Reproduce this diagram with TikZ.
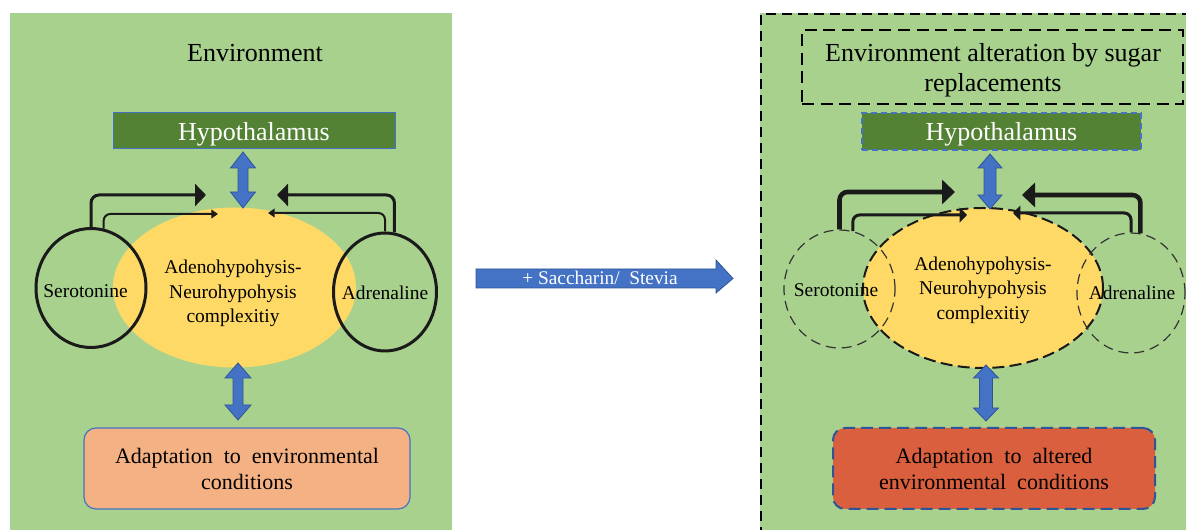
\documentclass[tikz,border=0pt]{standalone}
\usepackage{fontspec}
\setmainfont{Liberation Serif}
\usetikzlibrary{shapes.geometric,arrows.meta}
\definecolor{bggreen}{HTML}{A9D18E}
\definecolor{hypgreen}{HTML}{548235}
\definecolor{yell}{HTML}{FFD966}
\definecolor{bblue}{HTML}{4472C4}
\definecolor{bbord}{HTML}{2F5597}
\definecolor{peach}{HTML}{F4B183}
\definecolor{redor}{HTML}{DA5F3E}
\definecolor{lineblack}{HTML}{1A1A1A}
\def\px{0.75pt}
\newcommand\vdarrow[6]{%
  \draw[blockarrow] ({#1-#4},{#2+#6}) -- ({#1-#5},{#2+#6}) -- (#1,#2) -- ({#1+#5},{#2+#6})
   -- ({#1+#4},{#2+#6}) -- ({#1+#4},{#3-#6}) -- ({#1+#5},{#3-#6}) -- (#1,#3)
   -- ({#1-#5},{#3-#6}) -- ({#1-#4},{#3-#6}) -- cycle;}
\begin{document}
\begin{tikzpicture}[x=0.75pt,y=-0.75pt,
  titlefont/.style={font=\fontsize{19.5}{22.5}\selectfont},
  hypo/.style={fill=hypgreen, text=white, inner sep=0pt, text depth=0pt, font=\fontsize{19.5}{22}\selectfont},
  ell/.style={ellipse, fill=yell, inner sep=0pt},
  circ/.style={ellipse, inner sep=0pt},
  smalltext/.style={font=\fontsize{14.6}{18.4}\selectfont, align=center, inner sep=0pt},
  adapt/.style={rounded corners=9pt, inner sep=0pt, align=center, font=\fontsize{16.5}{19.5}\selectfont},
  blockarrow/.style={fill=bblue, draw=bbord, line width=0.6pt, line join=miter},
  hookthick/.style={draw=lineblack, line width=2.25pt, rounded corners=6pt, -{Triangle[length=8.25pt,width=16.5pt]}},
  hookthin/.style={draw=lineblack, line width=1.5pt, rounded corners=5pt, -{Triangle[length=5pt,width=6.5pt]}},
  hookthickR/.style={draw=lineblack, line width=3.4pt, rounded corners=6pt, -{Triangle[length=9.75pt,width=18pt]}},
  hookthinR/.style={draw=lineblack, line width=2.25pt, rounded corners=5pt, -{Triangle[length=5.5pt,width=11pt]}},
  dashbox/.style={dash pattern=on 9pt off 5pt},
]
\useasboundingbox (0,0) rectangle (1186,530);
\fill[white] (0,0) rectangle (1186,530);
% panels
\fill[bggreen] (10,13) rectangle (452,530);
\fill[bggreen] (760,13) rectangle (1186,530);
\draw[black, line width=1.5pt, dash pattern=on 7.5pt off 4.5pt] (1192,14) -- (761,14) -- (761,536);

% ---------------- left panel ----------------
\node[titlefont] (envL) at (255,53) {Environment};
\node[hypo, draw=bblue, line width=0.75pt, minimum width=282*\px, minimum height=36*\px] (hypL) at (254,131) {Hypothalamus};
\node[ell, minimum width=243*\px, minimum height=160*\px] (ellL) at (234.5,287.5) {};
\node[circ, draw=lineblack, line width=2.25pt, minimum width=110*\px, minimum height=119*\px] (seroL) at (91,288) {};
\node[circ, draw=lineblack, line width=2.25pt, minimum width=103*\px, minimum height=118*\px] (adrL) at (385,292) {};
\node[smalltext] (seroLt) at (85.5,291) {Serotonine};
\node[smalltext] (adrLt) at (385,293) {Adrenaline};
\node[smalltext] (ellLt) at (233,293.5) {Adenohypohysis-\\Neurohypohysis\\complexitiy};
\node[adapt, fill=peach, draw=bblue, line width=0.9pt, minimum width=326*\px, minimum height=81*\px] (adaptL) at (247,468.5) {Adaptation~~to~~environmental\\conditions};

\vdarrow{243}{152}{208}{5}{12.5}{16}
\vdarrow{238}{363}{420}{5}{13}{15}

\coordinate (tL1) at (206,195);
\coordinate (tL2) at (218,214);
\coordinate (tL3) at (277,195);
\coordinate (tL4) at (268,213);
\draw[hookthick] (seroL.north) |- (tL1);
\draw[hookthin] (seroL.78) |- (tL2);
\draw[hookthick] (adrL.81) |- (tL3);
\draw[hookthin] (adrL.north) |- (tL4);

% ---------------- middle arrow ----------------
\draw[blockarrow] (476,269) -- (716,269) -- (716,260) -- (733,278.5) -- (716,293) -- (716,288) -- (476,288) -- cycle;
\node[font=\fontsize{14.5}{17}\selectfont, text=white, inner sep=0pt] (midt) at (600,278) {+ Saccharin/~~Stevia};

% ---------------- right panel ----------------
\node[draw=black, line width=1.1pt, dashbox, minimum width=381*\px, minimum height=74*\px, inner sep=0pt] (envR) at (992.5,67) {};
\node[titlefont, align=center, inner sep=0pt] (envRt) at (993,70.5) {Environment alteration by sugar\\replacements};
\node[hypo, draw=bblue, line width=0.9pt, dash pattern=on 4.5pt off 3pt, minimum width=279*\px, minimum height=37*\px] (hypR) at (1001.5,131.5) {Hypothalamus};
\node[ell, draw=lineblack, line width=1.5pt, dash pattern=on 9pt off 4pt, minimum width=240*\px, minimum height=160*\px] (ellR) at (983,288) {};
\node[circ, draw=black!80, line width=0.9pt, dash pattern=on 7.5pt off 4.5pt, minimum width=111*\px, minimum height=118*\px] (seroR) at (839.5,289) {};
\node[circ, draw=black!80, line width=0.9pt, dash pattern=on 7.5pt off 4.5pt, minimum width=108*\px, minimum height=120*\px] (adrR) at (1131,293) {};
\node[smalltext] (seroRt) at (836,290) {Serotonine};
\node[smalltext] (adrRt) at (1132,293) {Adrenaline};
\node[smalltext] (ellRt) at (983,290) {Adenohypohysis-\\Neurohypohysis\\complexitiy};
\node[adapt, fill=redor, draw=bbord, line width=1.5pt, dash pattern=on 9pt off 4.5pt, minimum width=322*\px, minimum height=81*\px] (adaptR) at (994,468.5) {Adaptation~~to~~altered\\environmental~~conditions};

\vdarrow{990}{154}{209}{6}{12}{14}
\vdarrow{986}{365}{421}{6.5}{12.5}{13}

\coordinate (tR1) at (955,192);
\coordinate (tR2) at (967,215);
\coordinate (tR3) at (1022,195);
\coordinate (tR4) at (1013,213);
\draw[hookthickR] (seroR.north) |- (tR1);
\draw[hookthinR] (seroR.77) |- (tR2);
\draw[hookthickR] (adrR.81) |- (tR3);
\draw[hookthinR] (adrR.north) |- (tR4);
\end{tikzpicture}
\end{document}
